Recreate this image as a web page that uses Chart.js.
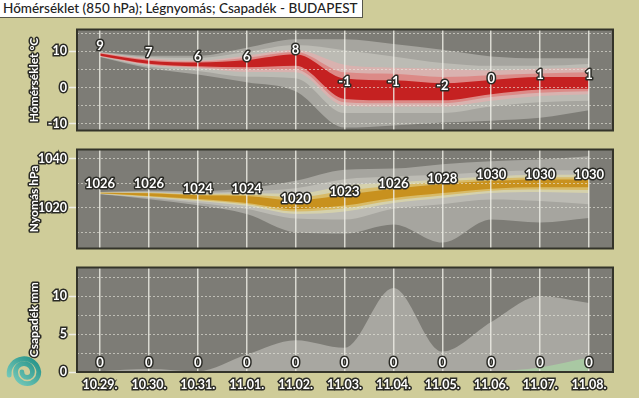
<!DOCTYPE html>
<html>
<head>
<meta charset="utf-8">
<script src="https://cdn.jsdelivr.net/npm/chart.js@4.4.1/dist/chart.umd.min.js"></script>
<style>
  html, body { margin: 0; padding: 0; width: 639px; height: 398px; overflow: hidden; background: #cfcc99; }
  canvas { position: absolute; left: 0; }
  #title {
    position: absolute; left: 0; top: 0; height: 17px; line-height: 17px;
    padding: 0 4px 0 3px; background: #fff; border: 1px solid #55554a; border-left: none; border-top: none;
    font: 500 13.5px Lato, sans-serif; color: #222; white-space: nowrap;
  }
  #logo { position: absolute; left: 6px; top: 354px; width: 36px; height: 36px; }
</style>
</head>
<body>
<div id="title">Hőmérséklet (850 hPa); Légnyomás; Csapadék - BUDAPEST</div>
<canvas id="cTemp" width="639" height="120" style="top:20px"></canvas>
<canvas id="cPres" width="639" height="118" style="top:140px"></canvas>
<canvas id="cRain" width="639" height="140" style="top:258px"></canvas>
<svg id="logo" viewBox="0 0 34 34">
  <defs>
    <linearGradient id="lg" x1="0" y1="1" x2="1" y2="0">
      <stop offset="0" stop-color="#7fd0c0"/>
      <stop offset="1" stop-color="#1f8f86"/>
    </linearGradient>
  </defs>
  <path d="M3 20 A14 14 0 1 1 31 17 A11 11 0 0 1 9 17 A8 8 0 0 1 25 17 A5 5 0 0 1 15 17"
        fill="none" stroke="url(#lg)" stroke-width="4.5" stroke-linecap="round"/>
</svg>
<script>
// napok
var dayLabels = ['10.29.', '10.30.', '10.31.', '11.01.', '11.02.', '11.03.', '11.04.', '11.05.', '11.06.', '11.07.', '11.08.'];

// hőmérséklet 850 hPa (°C)
var tempLabels = [9, 7, 6, 6, 8, -1, -1, -2, 0, 1, 1];
var tOuterHi = [9.8, 8.8, 8.8, 11.0, 13.3, 13.3, 12.0, 10.4, 8.6, 8.1, 8.1];
var tOuterLo = [8.4, 5.3, 3.6, 1.5, -1.0, -11.0, -10.4, -9.6, -9.1, -8.3, -6.2];
var tGrayHi  = [9.7, 8.4, 8.2, 9.8, 11.7, 10.3, 8.6, 6.8, 6.0, 6.0, 6.5];
var tGrayLo  = [8.5, 5.8, 4.6, 3.0, 2.6, -7.0, -7.0, -7.0, -5.2, -4.0, -3.6];
var tPinkHi  = [9.6, 8.0, 7.5, 8.8, 10.4, 6.3, 5.5, 5.2, 4.7, 5.2, 5.5];
var tPinkLo  = [8.6, 6.2, 5.3, 4.3, 4.2, -5.0, -5.2, -5.2, -3.6, -2.3, -1.8];
var tRoseHi  = [9.5, 7.7, 7.2, 8.2, 9.8, 4.2, 3.8, 2.9, 3.4, 3.9, 4.2];
var tRoseLo  = [8.7, 6.4, 5.6, 5.0, 5.0, -4.0, -4.3, -4.3, -2.6, -1.4, -1.0];
var tCoreHi  = [9.4, 7.4, 6.9, 7.6, 9.2, 2.5, 2.0, 1.2, 2.1, 2.9, 2.9];
var tCoreLo  = [8.8, 6.6, 5.9, 5.6, 6.0, -3.1, -3.5, -3.5, -1.8, -0.5, -0.3];

// légnyomás (hPa)
var presLabels = [1026, 1026, 1024, 1024, 1020, 1023, 1026, 1028, 1030, 1030, 1030];
var pOuterHi = [1026.5, 1027.0, 1026.8, 1028.0, 1031.0, 1035.5, 1036.0, 1037.8, 1039.0, 1039.7, 1041.0];
var pOuterLo = [1025.5, 1023.5, 1021.0, 1017.5, 1010.0, 1009.5, 1013.2, 1005.8, 1015.2, 1014.0, 1015.8];
var pGrayHi  = [1026.4, 1026.6, 1026.2, 1026.8, 1028.0, 1031.7, 1032.8, 1033.5, 1034.7, 1035.3, 1035.3];
var pGrayLo  = [1025.6, 1024.0, 1022.0, 1019.5, 1015.6, 1015.2, 1019.6, 1021.5, 1023.4, 1022.8, 1021.5];
var pPaleHi  = [1026.3, 1026.3, 1025.7, 1025.8, 1025.7, 1029.0, 1030.3, 1031.7, 1032.8, 1033.5, 1033.5];
var pPaleLo  = [1025.7, 1024.3, 1022.8, 1020.8, 1017.5, 1018.5, 1022.0, 1024.0, 1026.0, 1026.5, 1026.0];
var pTanHi   = [1026.2, 1026.1, 1025.4, 1025.3, 1024.3, 1027.0, 1029.0, 1030.7, 1031.9, 1032.5, 1032.5];
var pTanLo   = [1025.8, 1024.6, 1023.2, 1021.5, 1018.5, 1019.8, 1023.0, 1025.0, 1027.0, 1027.5, 1027.3];
var pCoreHi  = [1026.1, 1025.9, 1025.1, 1024.8, 1023.0, 1025.3, 1027.8, 1029.7, 1031.0, 1031.6, 1031.6];
var pCoreLo  = [1025.9, 1024.8, 1023.6, 1022.0, 1019.4, 1020.9, 1024.0, 1026.0, 1027.8, 1028.4, 1028.4];

// csapadék (mm)
var rainLabels = [0, 0, 0, 0, 0, 0, 0, 0, 0, 0, 0];
var rainMax = [0.1, 0.4, 0.1, 2.3, 4.2, 3.2, 11.1, 2.7, 6.6, 10.0, 9.1];
var rainMed = [0, 0, 0, 0, 0, 0, 0, 0, 0.1, 0.6, 1.9];

var tempTicks = [-10, -5, 0, 5, 10, 15];
var presTicks = [1010, 1020, 1030, 1040];
var rainTicks = [0, 2.5, 5, 7.5, 10, 12.5];

var FONT = 'Lato, "DejaVu Sans", sans-serif';
var PLOT_BG = '#7d7c76';
var OUTER = '#a6a59f';
var GRAY = '#bcbbb4';

function pts(arr) {
  return arr.map(function(v, i) { return {x: i, y: v}; });
}

// sávok: [felső, alsó, szín], kívülről befelé
function bandSets(bands) {
  var ds = [];
  bands.forEach(function(b, k) {
    var lo = ds.length + 1;
    ds.push({data: pts(b[0]), fill: {target: lo}, backgroundColor: b[2], order: 100 - k});
    ds.push({data: pts(b[1]), fill: false, order: 100 - k});
  });
  return ds;
}

function outlined(ctx, txt, x, y) {
  ctx.lineJoin = 'round';
  ctx.lineWidth = 3;
  ctx.strokeStyle = '#2b2b26';
  ctx.strokeText(txt, x, y);
  ctx.fillStyle = '#fff';
  ctx.fillText(txt, x, y);
}

var panelPlugin = {
  id: 'panel',
  beforeDraw: function(chart) {
    var a = chart.chartArea, ctx = chart.ctx;
    ctx.save();
    ctx.fillStyle = PLOT_BG;
    ctx.fillRect(a.left, a.top, a.right - a.left, a.bottom - a.top);
    ctx.restore();
  },
  afterDraw: function(chart, args, opts) {
    var a = chart.chartArea, ctx = chart.ctx;
    ctx.save();
    ctx.strokeStyle = '#34342a';
    ctx.lineWidth = 2;
    ctx.strokeRect(a.left, a.top, a.right - a.left, a.bottom - a.top);

    // értékcímkék
    ctx.font = 'bold 13px ' + FONT;
    ctx.textAlign = 'center';
    ctx.textBaseline = 'middle';
    var xs = chart.scales.x, ys = chart.scales.y;
    (opts.values || []).forEach(function(v, i) {
      outlined(ctx, String(v), xs.getPixelForValue(i), ys.getPixelForValue(v) - 9);
    });

    // tengelycím
    ctx.font = 'bold 12px ' + FONT;
    ctx.translate(34, (a.top + a.bottom) / 2);
    ctx.rotate(-Math.PI / 2);
    outlined(ctx, opts.title, 0, 0);
    ctx.restore();
  }
};

function xScale(showLabels) {
  return {
    type: 'linear', min: -0.47, max: 10.49,
    afterBuildTicks: function(s) { s.ticks = dayLabels.map(function(l, i) { return {value: i}; }); },
    afterFit: function(s) { s.height = showLabels ? 26 : 0; },
    grid: {color: 'rgba(240,240,232,0.8)', lineWidth: 1.5, drawTicks: false, z: 1},
    border: {display: false, dash: []},
    ticks: {
      display: showLabels, autoSkip: false, maxRotation: 0, padding: 5,
      callback: function(v) { return dayLabels[v]; },
      color: '#fff', textStrokeColor: '#2b2b26', textStrokeWidth: 3,
      font: {family: FONT, size: 12.5, weight: 'bold'}
    }
  };
}

function yScale(min, max, ticks, every) {
  var lab = function(v) { return Math.abs(v % every) < 1e-9; };
  return {
    type: 'linear', min: min, max: max,
    afterBuildTicks: function(s) { s.ticks = ticks.map(function(v) { return {value: v}; }); },
    afterFit: function(s) { s.width = 77; },
    grid: {
      color: 'rgba(235,235,225,0.6)', lineWidth: 1, z: 1,
      borderDash: [2, 2],
      tickLength: 8, tickWidth: 1.5, tickBorderDash: [],
      tickColor: function(c) { return c.tick && lab(c.tick.value) ? '#eeeee6' : 'rgba(0,0,0,0)'; }
    },
    border: {display: false, dash: [2, 2]},
    ticks: {
      padding: 2,
      callback: function(v) { return lab(v) ? String(v) : ''; },
      color: '#fff', textStrokeColor: '#2b2b26', textStrokeWidth: 3,
      font: {family: FONT, size: 12.5, weight: 'bold'}
    }
  };
}

function makeChart(id, datasets, y, showX, padding, values, title) {
  return new Chart(document.getElementById(id), {
    type: 'line',
    data: {datasets: datasets},
    options: {
      responsive: false,
      animation: false,
      layout: {padding: padding},
      elements: {
        line: {borderWidth: 0, borderColor: 'rgba(0,0,0,0)', cubicInterpolationMode: 'monotone'},
        point: {radius: 0}
      },
      plugins: {
        legend: {display: false},
        tooltip: {enabled: false},
        panel: {values: values, title: title}
      },
      scales: {x: xScale(showX), y: y}
    },
    plugins: [panelPlugin]
  });
}

makeChart('cTemp', bandSets([
  [tOuterHi, tOuterLo, OUTER],
  [tGrayHi, tGrayLo, GRAY],
  [tPinkHi, tPinkLo, '#d9b2af'],
  [tRoseHi, tRoseLo, '#dc8a87'],
  [tCoreHi, tCoreLo, '#c52121']
]), yScale(-11.8, 16, tempTicks, 10), false,
  {left: 0, right: 26, top: 7, bottom: 6}, tempLabels, 'Hőmérséklet °C');

makeChart('cPres', bandSets([
  [pOuterHi, pOuterLo, OUTER],
  [pGrayHi, pGrayLo, GRAY],
  [pPaleHi, pPaleLo, '#d5d1ac'],
  [pTanHi, pTanLo, '#d8bb68'],
  [pCoreHi, pCoreLo, '#c8911e']
]), yScale(1003.4, 1043.8, presTicks, 20), false,
  {left: 0, right: 26, top: 6, bottom: 5}, presLabels, 'Nyomás hPa');

makeChart('cRain', [
  {data: pts(rainMed), fill: 'origin', backgroundColor: '#a9c8a3', order: 1},
  {data: pts(rainMax), fill: 'origin', backgroundColor: '#a8a7a1', order: 2}
], yScale(0, 13.8, rainTicks, 5), true,
  {left: 0, right: 26, top: 7, bottom: 0}, rainLabels, 'Csapadék mm');
</script>
</body>
</html>
